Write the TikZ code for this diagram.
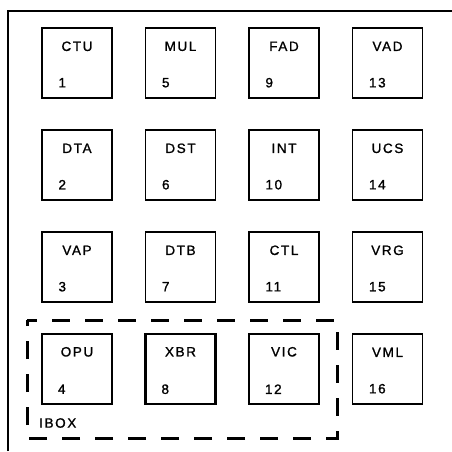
\documentclass[tikz,border=0pt]{standalone}
\usepackage{fontspec}
\setmainfont{Liberation Sans}[LetterSpace=12, FakeBold=1.2]
\begin{document}
\begin{tikzpicture}[x=1pt,y=-1pt,
  unit/.style={draw, line width=1.4pt, minimum width=70pt, minimum height=70pt, inner sep=0pt},
  iunit/.style={unit, line width=2.4pt},
  lbl/.style={font=\fontsize{13.5}{15}\selectfont, inner sep=0pt},
  num/.style={font=\fontsize{13.5}{15}\selectfont, anchor=west, inner sep=0pt}]
\useasboundingbox (0,0) rectangle (452,451);
\draw[line width=1.5pt] (8,451) -- (8,11) -- (452,11);
\foreach \name/\n/\c/\r/\st in {CTU/1/0/0/unit, DTA/2/0/1/unit, VAP/3/0/2/unit, OPU/4/0/3/iunit,
  MUL/5/1/0/unit, DST/6/1/1/unit, DTB/7/1/2/unit, XBR/8/1/3/iunit,
  FAD/9/2/0/unit, INT/10/2/1/unit, CTL/11/2/2/unit, VIC/12/2/3/iunit,
  VAD/13/3/0/unit, UCS/14/3/1/unit, VRG/15/3/2/unit, VML/16/3/3/unit}{
  \node[\st] (b\n) at ({77+\c*103.5},{63+\r*102}) {};
  \node[lbl] (t\n) at ([yshift=-19pt]b\n.north) {\name};
  \node[num] (n\n) at ([xshift=17pt,yshift=16pt]b\n.south west) {\n};
}
\draw[line width=3pt, dash pattern=on 18pt off 15pt, dash phase=8pt] (27,320) -- (337,320) -- (337,438) -- (27,438) -- cycle;
\node[lbl, anchor=west] (ibox) at (39,423) {IBOX};
\end{tikzpicture}
\end{document}
